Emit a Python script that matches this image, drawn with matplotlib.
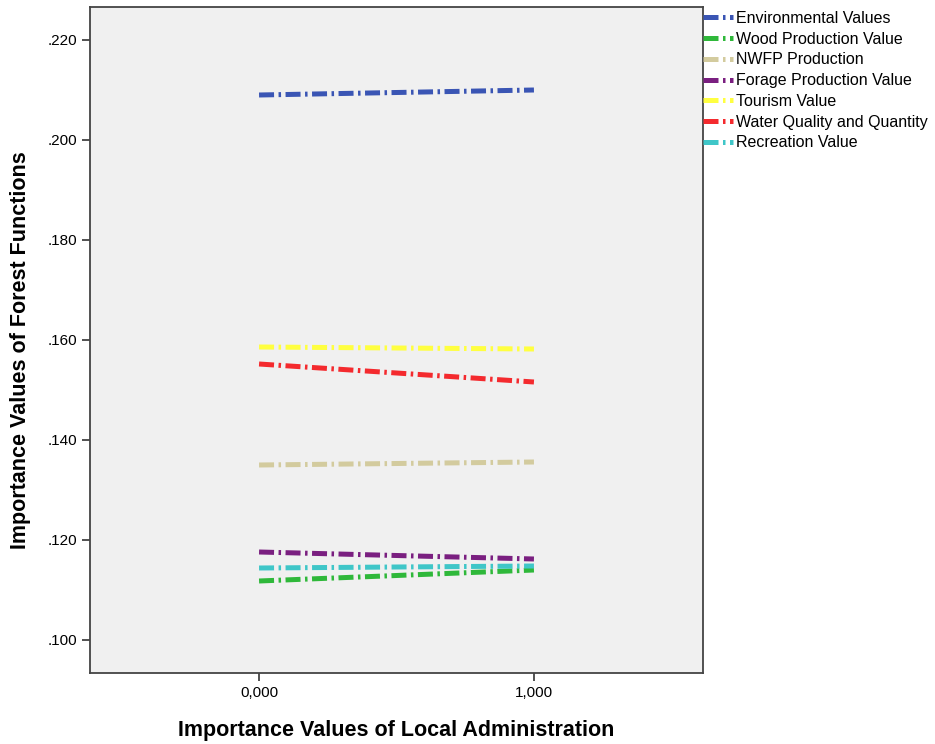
import matplotlib
matplotlib.use("Agg")
import matplotlib.pyplot as plt

# values
x_vals = [0, 1]
x_ticklabels = ["0,000", "1,000"]
series_names = ["Environmental Values", "Wood Production Value", "NWFP Production",
                "Forage Production Value", "Tourism Value", "Water Quality and Quantity",
                "Recreation Value"]
environmental = [0.2090, 0.2100]
wood = [0.1118, 0.1140]
nwfp = [0.1350, 0.1356]
forage = [0.1176, 0.1162]
tourism = [0.1586, 0.1582]
water = [0.1552, 0.1516]
recreation = [0.1144, 0.1148]
y_ticks = [0.100, 0.120, 0.140, 0.160, 0.180, 0.200, 0.220]

colors = ["#3a55b4", "#2fb83a", "#d3cb9e", "#7a1f80", "#ffff40", "#f42a2e", "#3fc6c8"]
all_series = [environmental, wood, nwfp, forage, tourism, water, recreation]

plt.rcParams['font.family'] = ['Liberation Sans', 'DejaVu Sans']

fig = plt.figure(figsize=(9.35, 7.44), dpi=100)
ax = fig.add_axes([90 / 935, 1 - 673 / 744, (703 - 90) / 935, (673 - 7) / 744])
ax.set_facecolor("#f0f0f0")

for name, vals, c in zip(series_names, all_series, colors):
    ax.plot(x_vals, vals, color=c, lw=3.6, label=name,
            dashes=[3.0, 0.9, 0.5, 0.9], solid_capstyle='butt', dash_capstyle='butt')

ax.set_xlim(-0.615, 1.615)
ax.set_ylim(0.0934, 0.2266)
ax.set_xticks(x_vals)
ax.set_xticklabels(x_ticklabels)
ax.set_yticks(y_ticks)
ax.set_yticklabels(["." + f"{v:.3f}".split(".")[1] for v in y_ticks])
ax.tick_params(axis='both', direction='out', length=6, width=1.2, colors='#333333',
               labelsize=11, labelcolor='black', top=False, right=False)
for s in ax.spines.values():
    s.set_color('#444444')
    s.set_linewidth(1.3)

ax.set_xlabel("Importance Values of Local Administration", fontsize=15.5, fontweight='bold', labelpad=14)
ax.set_ylabel("Importance Values of Forest Functions", fontsize=15.5, fontweight='bold')
ax.yaxis.set_label_coords(-0.097, 0.485)

leg = ax.legend(loc='upper left', bbox_to_anchor=(1.0, 0.994), frameon=False, borderaxespad=0,
                fontsize=11.5, handlelength=1.9, handletextpad=0.15, labelspacing=0.36,
                borderpad=0)
for line in leg.get_lines():
    line.set_linewidth(3.6)

fig.savefig("out.png", dpi=100, facecolor='white')
